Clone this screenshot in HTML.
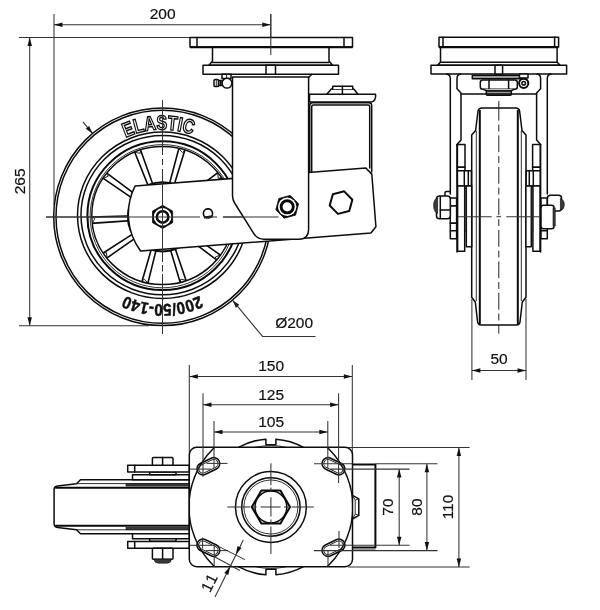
<!DOCTYPE html>
<html lang="en">
<head>
<meta charset="utf-8">
<title>Elastic castor 200/50-140 dimension drawing</title>
<style>
html,body{margin:0;padding:0;background:#fff}
svg{display:block;filter:grayscale(1)}
.o{stroke:#0d0d0d;stroke-width:1.5;fill:none;stroke-linejoin:round;stroke-linecap:round}
.o2{stroke:#1a1a1a;stroke-width:.9;fill:none;stroke-linejoin:round}
.o3{stroke:#0a0a0a;stroke-width:2;fill:none;stroke-linejoin:round}
.o4{stroke:#0a0a0a;stroke-width:1.6;fill:none;stroke-linejoin:round}
.w{fill:#fff}
.nk{fill:#0a0a0a;stroke:#0a0a0a;stroke-width:.8;stroke-linejoin:round}
.nw{fill:#fff;stroke:none}
.nr{fill:#fff;stroke:#0a0a0a;stroke-width:2.5}
.nr2{fill:#fff;stroke:#0a0a0a;stroke-width:2.9}
.g{fill:#9a9a9a}
.k{fill:#3a3a3a;stroke:#111;stroke-width:.6}
.d{stroke:#333;stroke-width:1.05;fill:none}
.c{stroke:#222;stroke-width:1;fill:none;stroke-dasharray:16.8 3.9 6.9 3.9}
.a{fill:#111;stroke:none}
.t{font-family:"Liberation Sans",Arial,sans-serif;fill:#111;stroke:#111;stroke-width:.2}
.el{font-family:"Liberation Sans",Arial,sans-serif;font-weight:700;fill:#fff;stroke:#111;stroke-width:1.45;text-rendering:geometricPrecision}
.sz{font-family:"Liberation Sans",Arial,sans-serif;font-weight:700;fill:#111;stroke:#111;stroke-width:.45;text-rendering:geometricPrecision}
</style>
</head>
<body>
<svg width="600" height="610" viewBox="0 0 600 610">
<rect x="0" y="0" width="600" height="610" fill="#fff"/>
<g id="side">
<line class="d" x1="19" y1="37.5" x2="190" y2="37.5"/>
<line class="d" x1="54" y1="14" x2="54" y2="205"/>
<line class="d" x1="270.8" y1="14" x2="270.8" y2="55"/>
<line class="d" x1="54" y1="24.7" x2="270.8" y2="24.7"/>
<polygon class="a" points="54,24.7 62.5,22.45 62.5,26.95"/>
<polygon class="a" points="270.8,24.7 262.3,26.95 262.3,22.45"/>
<text class="t" x="162.6" y="19.3" font-size="15.5" text-anchor="middle">200</text>
<line class="d" x1="29.7" y1="37.5" x2="29.7" y2="325.7"/>
<polygon class="a" points="29.7,37.5 31.95,46 27.45,46"/>
<polygon class="a" points="29.7,325.7 27.45,317.2 31.95,317.2"/>
<line class="d" x1="19" y1="325.7" x2="149" y2="325.7"/>
<text class="t" x="25" y="181.4" font-size="15.5" text-anchor="middle" transform="rotate(-90 25 181.4)">265</text>
<circle class="o w" cx="162.5" cy="216.8" r="108.8"/>
<circle class="o" cx="162.5" cy="216.8" r="106.5"/>
<ellipse class="o" cx="162.5" cy="215.3" rx="85" ry="83.2"/>
<ellipse class="o" cx="162.5" cy="215.1" rx="81.5" ry="79.7"/>
<ellipse class="o3" cx="162.5" cy="215.7" rx="75.1" ry="74.4"/>
<ellipse class="o2" cx="162.5" cy="216.2" rx="72.4" ry="71.6"/>
<clipPath id="sc"><ellipse cx="162.5" cy="215.6" rx="70.7" ry="69"/></clipPath>
<g clip-path="url(#sc)">
<g transform="translate(162.5 216.8) rotate(0)">
<path class="o4 w" d="M28 -2.3 L74 -3.2 L74 3.2 L28 2.3"/>
</g>
<g transform="translate(162.5 216.8) rotate(36)">
<path class="o4 w" d="M28 -2.3 L74 -3.2 L74 3.2 L28 2.3"/>
</g>
<g transform="translate(162.5 216.8) rotate(72.3)">
<path class="o4 w" d="M28 -2.3 L74 -3.2 L74 3.2 L28 2.3"/>
</g>
<g transform="translate(162.5 216.8) rotate(105)">
<path class="o4 w" d="M28 -2.3 L74 -3.2 L74 3.2 L28 2.3"/>
</g>
<g transform="translate(162.5 216.8) rotate(146)">
<path class="o4 w" d="M28 -2.3 L74 -3.2 L74 3.2 L28 2.3"/>
</g>
<g transform="translate(162.5 216.8) rotate(177.3)">
<path class="o4 w" d="M28 -2.3 L74 -3.2 L74 3.2 L28 2.3"/>
</g>
<g transform="translate(162.5 216.8) rotate(215.5)">
<path class="o4 w" d="M28 -2.3 L74 -3.2 L74 3.2 L28 2.3"/>
</g>
<g transform="translate(162.5 216.8) rotate(249.3)">
<path class="o4 w" d="M28 -2.3 L74 -3.2 L74 3.2 L28 2.3"/>
</g>
<g transform="translate(162.5 216.8) rotate(286)">
<path class="o4 w" d="M28 -2.3 L74 -3.2 L74 3.2 L28 2.3"/>
</g>
<g transform="translate(162.5 216.8) rotate(324)">
<path class="o4 w" d="M28 -2.3 L74 -3.2 L74 3.2 L28 2.3"/>
</g>
</g>
<g transform="translate(162.5 216.8) rotate(0)">
<path class="o2" d="M70.4 -3.1 L67.7 1.5 L70.4 3.1"/>
</g>
<g transform="translate(162.5 216.8) rotate(36)">
<path class="o2" d="M69.09 -3.1 L66.39 1.5 L69.09 3.1"/>
</g>
<g transform="translate(162.5 216.8) rotate(72.3)">
<path class="o2" d="M67.71 -3.1 L65.01 1.5 L67.71 3.1"/>
</g>
<g transform="translate(162.5 216.8) rotate(105)">
<path class="o2" d="M67.65 -3.1 L64.95 1.5 L67.65 3.1"/>
</g>
<g transform="translate(162.5 216.8) rotate(146)">
<path class="o2" d="M69.18 -3.1 L66.48 1.5 L69.18 3.1"/>
</g>
<g transform="translate(162.5 216.8) rotate(177.3)">
<path class="o2" d="M70.34 -3.1 L67.64 1.5 L70.34 3.1"/>
</g>
<g transform="translate(162.5 216.8) rotate(215.5)">
<path class="o2" d="M70.51 -3.1 L67.81 1.5 L70.51 3.1"/>
</g>
<g transform="translate(162.5 216.8) rotate(249.3)">
<path class="o2" d="M70.03 -3.1 L67.33 1.5 L70.03 3.1"/>
</g>
<g transform="translate(162.5 216.8) rotate(286)">
<path class="o2" d="M69.98 -3.1 L67.28 1.5 L69.98 3.1"/>
</g>
<g transform="translate(162.5 216.8) rotate(324)">
<path class="o2" d="M70.5 -3.1 L67.8 1.5 L70.5 3.1"/>
</g>
<ellipse class="o" cx="162.5" cy="215.6" rx="70.7" ry="69"/>
<circle class="o3 w" cx="162.5" cy="216.8" r="34.6"/>
<path id="tp" fill="none" d="M75.2 216.8 A87.3 87.3 0 1 1 249.8 216.8 A87.3 87.3 0 1 1 75.2 216.8"/>
<text class="el" font-size="20"><textPath href="#tp" startOffset="24.3%" text-anchor="middle" textLength="68.5" lengthAdjust="spacingAndGlyphs">ELASTIC</textPath></text>
<text class="sz" font-size="17"><textPath href="#tp" startOffset="75%" text-anchor="middle" textLength="77" lengthAdjust="spacingAndGlyphs">200/50-140</textPath></text>
<line class="d" x1="162.5" y1="100" x2="162.5" y2="155"/>
<line class="d" x1="162.5" y1="159" x2="162.5" y2="165"/>
<line class="d" x1="162.5" y1="169" x2="162.5" y2="262"/>
<line class="d" x1="162.5" y1="265" x2="162.5" y2="271.3"/>
<line class="d" x1="162.5" y1="274.4" x2="162.5" y2="334"/>
<line class="d" x1="46" y1="217" x2="200" y2="217"/>
<line class="d" x1="204.5" y1="217" x2="217" y2="217"/>
<line class="d" x1="223" y1="217" x2="278.5" y2="217"/>
<path class="o w" d="M309.7 175 L309.7 105.5 Q309.7 102.8 312.5 102.8 L369 102.8 Q371.7 102.8 371.7 105.5 L371.7 172"/>
<path class="o" d="M311.7 172 L311.7 106.5 Q311.7 105 313.2 105 L368.2 105 Q369.7 105 369.7 106.5 L369.7 168"/>
<path class="o w" d="M309.5 94.3 L375.6 94.3 Q376.3 100.5 371.3 102.1 L309.5 102.1 Z"/>
<path class="o w" d="M326.7 94.3 L331.3 89 L353.7 89 L358 94.3 Z"/>
<path class="o w" d="M332.7 89 L332.7 86.3 L352.7 86.3 L352.7 89"/>
<line class="o" x1="342.4" y1="86.3" x2="342.4" y2="94.3"/>
<g transform="translate(162.5 216.8) rotate(-4.45)">
<path class="o w" d="M-25 -32.8 L206.5 -32.8 L212 -26.3 L212 26.5 L206.5 32.4 L-24.5 32.4 A62 62 0 0 1 -25 -32.8 Z"/>
<circle class="o4 w" cx="45.6" cy="0.2" r="4.6"/>
<line class="o3" x1="41.2" y1="4" x2="50" y2="3.3"/>
<path class="o3 w" d="M190.62 -2.33 L186.62 8.66 L175.1 10.69 L167.58 1.73 L171.58 -9.26 L183.1 -11.29 Z"/>
</g>
<path class="nk" d="M162.6 228.5 L152.55 222.7 L152.55 211.1 L162.6 205.3 L172.65 211.1 L172.65 222.7 Z"/>
<circle class="nw" cx="162.6" cy="216.9" r="8.8"/>
<circle class="nr" cx="162.6" cy="216.9" r="5.75"/>
<line class="d" x1="162.5" y1="100" x2="162.5" y2="155"/>
<line class="d" x1="162.5" y1="159" x2="162.5" y2="165"/>
<line class="d" x1="162.5" y1="169" x2="162.5" y2="262"/>
<line class="d" x1="162.5" y1="265" x2="162.5" y2="271.3"/>
<line class="d" x1="162.5" y1="274.4" x2="162.5" y2="334"/>
<line class="d" x1="46" y1="217" x2="200" y2="217"/>
<line class="d" x1="204.5" y1="217" x2="217" y2="217"/>
<line class="d" x1="223" y1="217" x2="278.5" y2="217"/>
<rect class="o w" x="190" y="37.5" width="162.5" height="9.5"/>
<line class="o" x1="197" y1="37.5" x2="197" y2="47"/>
<line class="o" x1="344" y1="37.5" x2="344" y2="47"/>
<path class="o w" d="M212.5 47 L212.5 61 L209 65.3 L332.6 65.3 L329 61 L329 47 Z"/>
<line class="o3" x1="190" y1="47.2" x2="352.5" y2="47.2"/>
<line class="d" x1="270.8" y1="14" x2="270.8" y2="55"/>
<line class="o" x1="212.5" y1="62.5" x2="329" y2="62.5"/>
<rect class="o w" x="203" y="65.3" width="135.5" height="8.9"/>
<rect class="o w" x="266" y="65.3" width="9.5" height="8.9"/>
<rect class="o w" x="222" y="74.2" width="9" height="4.3"/>
<rect class="o w" x="214" y="79.6" width="4.6" height="7" rx="1.2"/>
<rect class="o w" x="218.6" y="80.6" width="5.4" height="5"/>
<line class="o2" x1="216.3" y1="79.6" x2="216.3" y2="86.6"/>
<line class="o3" x1="220.6" y1="80.6" x2="220.6" y2="85.6"/>
<line class="o2" x1="226.5" y1="74.2" x2="226.5" y2="78.5"/>
<circle class="o w" cx="227" cy="83.2" r="4.9"/>
<path class="o w" d="M232.5 77 L308.6 77 L308.6 229.5 Q308.6 239.2 299 239.2 L264 239.2 Q257.5 239.2 254 233.8 L234.6 203 Q232.5 199.6 232.5 195.5 Z"/>
<line class="o" x1="308.6" y1="77.6" x2="311.6" y2="74.4"/>
<line class="d" x1="223" y1="217" x2="278.5" y2="217"/>
<path class="nk" d="M298.6 203.75 L295.54 215.14 L284.15 218.2 L275.8 209.85 L278.86 198.46 L290.25 195.4 Z"/>
<circle class="nw" cx="287.2" cy="206.8" r="9.2"/>
<circle class="nr2" cx="287.2" cy="206.8" r="6.1"/>
<line class="d" x1="82.92" y1="121.96" x2="92.56" y2="133.45"/>
<polygon class="a" points="92.56,133.45 85.74,128.74 89.11,125.91"/>
<polygon class="a" points="232.44,300.15 239.26,304.86 235.89,307.69"/>
<path class="d" d="M232.44 300.15 L262.5 336.4 L315.5 336.4"/>
<text class="t" x="275.2" y="328.3" font-size="15.5" text-anchor="start">Ø200</text>
</g>
<g id="front">
<path class="o w" d="M482 108 L515.6 108 Q519 108 519.6 111 L522 130.5 L526 135 L526 297.3 L522.3 302 L520 322 Q519.6 325 516.6 325 L481 325 Q478 325 477.6 322 L475.3 302 L471.7 297.3 L471.7 135 L475.6 130.5 L478 111 Q478.6 108 482 108 Z"/>
<rect class="o w" x="439" y="37.3" width="119.6" height="9.7"/>
<line class="o" x1="443" y1="37.3" x2="443" y2="47"/>
<line class="o" x1="554.6" y1="37.3" x2="554.6" y2="47"/>
<path class="o w" d="M440.5 47 L440.5 62 L437.6 65.3 L560 65.3 L557.1 62 L557.1 47 Z"/>
<line class="o3" x1="439" y1="47.2" x2="558.6" y2="47.2"/>
<line class="o" x1="440.5" y1="62.3" x2="557.1" y2="62.3"/>
<rect class="o w" x="431" y="65.3" width="135.6" height="8.7"/>
<rect class="o w" x="495" y="65.3" width="7.6" height="8.7"/>
<rect class="o g" x="472.3" y="75.3" width="53" height="3.4"/>
<rect class="o w" x="480.3" y="80" width="37" height="9.3" rx="2.5"/>
<line class="o" x1="489" y1="80" x2="489" y2="89.3"/>
<line class="o" x1="508.6" y1="80" x2="508.6" y2="89.3"/>
<path class="o w" d="M483.5 89.3 L487 91 L510.6 91 L514.1 89.3"/>
<rect class="o g" x="486.3" y="91" width="25" height="4.3" rx="1"/>
<line class="o" x1="461" y1="94" x2="536.6" y2="94"/>
<rect class="o w" x="519.5" y="74" width="8.5" height="4"/>
<circle class="o3 w" cx="523.7" cy="83.3" r="4.6"/>
<circle class="o" cx="523.7" cy="83.3" r="1.8"/>
<path class="o" d="M446.5 74 Q450.3 74.5 450.3 78.5 L450.3 194"/>
<path class="o" d="M460.5 74 Q457 74.5 457 78.5 L457 88.7 L461 93 L461 140 L457 144.6"/>
<line class="o" x1="457" y1="144.6" x2="457" y2="252"/>
<rect class="o w" x="457.4" y="144.6" width="7.6" height="22.7"/>
<rect class="o w" x="457.4" y="167.3" width="7.6" height="3.4"/>
<rect class="o w" x="457.4" y="170.7" width="14" height="15.3"/>
<line class="o" x1="464.3" y1="170.7" x2="464.3" y2="186"/>
<line class="o" x1="468.3" y1="170.7" x2="468.3" y2="186"/>
<rect class="o w" x="457.6" y="186" width="7.1" height="65.3"/>
<rect class="o w" x="466.3" y="186" width="5.4" height="60.7"/>
<rect class="k" x="464.7" y="188" width="1.6" height="43"/>
<line class="o2" x1="476.3" y1="131" x2="476.3" y2="301"/>
<line class="o3" x1="479.8" y1="110" x2="479.8" y2="324"/>
<rect class="o w" x="450.3" y="198" width="6.3" height="8"/>
<rect class="o w" x="450.3" y="206" width="6.3" height="17.3"/>
<rect class="o w" x="450.3" y="223.3" width="6.3" height="7.4"/>
<rect class="o w" x="450.3" y="230.7" width="6.3" height="8"/>
<g transform="translate(997.6 0) scale(-1 1)">
<path class="o" d="M446.5 74 Q450.3 74.5 450.3 78.5 L450.3 194"/>
<path class="o" d="M460.5 74 Q457 74.5 457 78.5 L457 88.7 L461 93 L461 140 L457 144.6"/>
<line class="o" x1="457" y1="144.6" x2="457" y2="252"/>
<rect class="o w" x="457.4" y="144.6" width="7.6" height="22.7"/>
<rect class="o w" x="457.4" y="167.3" width="7.6" height="3.4"/>
<rect class="o w" x="457.4" y="170.7" width="14" height="15.3"/>
<line class="o" x1="464.3" y1="170.7" x2="464.3" y2="186"/>
<line class="o" x1="468.3" y1="170.7" x2="468.3" y2="186"/>
<rect class="o w" x="457.6" y="186" width="7.1" height="65.3"/>
<rect class="o w" x="466.3" y="186" width="5.4" height="60.7"/>
<rect class="k" x="464.7" y="188" width="1.6" height="43"/>
<line class="o2" x1="476.3" y1="131" x2="476.3" y2="301"/>
<line class="o3" x1="479.8" y1="110" x2="479.8" y2="324"/>
<rect class="o w" x="450.3" y="198" width="6.3" height="8"/>
<rect class="o w" x="450.3" y="206" width="6.3" height="17.3"/>
<rect class="o w" x="450.3" y="223.3" width="6.3" height="7.4"/>
<rect class="o w" x="450.3" y="230.7" width="6.3" height="8"/>
</g>
<path class="o" d="M445 196 L445 192.5 Q445 191.5 446.5 191.5 L450.3 191.5"/>
<rect class="o w" x="436.5" y="196" width="13.8" height="22.7" rx="3"/>
<line class="o" x1="440.3" y1="196.5" x2="440.3" y2="218.3"/>
<line class="o" x1="440.3" y1="210" x2="450.3" y2="210"/>
<path class="k" d="M437.6 197.8 Q433.6 199 433.6 205.5 Q433.6 212 437.6 213.6 Z"/>
<rect class="o w" x="547.4" y="195.3" width="14.1" height="15.7" rx="3"/>
<path class="k" d="M560.4 198.5 Q564.4 199.8 564.4 204.5 Q564.4 209.6 560.4 210.8 Z"/>
<rect class="o w" x="541" y="205.3" width="13" height="23.4" rx="2.5"/>
<rect class="k" x="553" y="208" width="2.2" height="18"/>
<line class="d" x1="498.8" y1="100.9" x2="498.8" y2="104.5"/>
<line class="c" x1="498.8" y1="103.9" x2="498.8" y2="333.6"/>
<line class="d" x1="458" y1="216.7" x2="491.7" y2="216.7"/>
<line class="d" x1="506.3" y1="216.7" x2="539.5" y2="216.7"/>
<line class="d" x1="496.5" y1="216.7" x2="501" y2="216.7"/>
<line class="d" x1="471.9" y1="299" x2="471.9" y2="380"/>
<line class="d" x1="526" y1="299" x2="526" y2="380"/>
<line class="d" x1="471.9" y1="370.4" x2="526" y2="370.4"/>
<polygon class="a" points="471.9,370.4 480.4,368.15 480.4,372.65"/>
<polygon class="a" points="526,370.4 517.5,372.65 517.5,368.15"/>
<text class="t" x="499" y="364.4" font-size="15.5" text-anchor="middle">50</text>
</g>
<g id="plan">
<path class="o w" d="M189.3 479.7 L80.5 479.7 L76.5 483.7 L57.5 486 Q54.1 486.4 54.1 489.6 L54.1 523.8 Q54.1 527 57.5 527.4 L76.5 529.7 L80.5 533.7 L189.3 533.7 Z"/>
<line class="o3" x1="55.2" y1="487.7" x2="189.3" y2="487.7"/>
<line class="o2" x1="77" y1="483.6" x2="189.3" y2="483.6"/>
<rect class="k" x="126" y="483.6" width="63.3" height="2.5"/>
<rect class="o w" x="132.5" y="474.7" width="56.8" height="5"/>
<rect class="o w" x="149.7" y="472.1" width="26.3" height="2.6"/>
<rect class="o w" x="127.7" y="465.2" width="61.6" height="6.7"/>
<line class="o" x1="134.7" y1="465.2" x2="134.7" y2="471.9"/>
<line class="o3" x1="55.2" y1="525.7" x2="189.3" y2="525.7"/>
<line class="o2" x1="77" y1="529.8" x2="189.3" y2="529.8"/>
<rect class="k" x="126" y="527.3" width="63.3" height="2.5"/>
<rect class="o w" x="132.5" y="533.7" width="56.8" height="5"/>
<rect class="o w" x="149.7" y="538.7" width="26.3" height="2.6"/>
<rect class="o w" x="127.7" y="541.5" width="61.6" height="6.7"/>
<line class="o" x1="134.7" y1="541.5" x2="134.7" y2="548.2"/>
<rect class="o w" x="152.4" y="457.4" width="20.6" height="7.8" rx="1"/>
<line class="o" x1="162.6" y1="457.4" x2="162.6" y2="465.2"/>
<rect class="o w" x="152.4" y="548.2" width="20.6" height="11" rx="1"/>
<line class="o" x1="162.6" y1="548.2" x2="162.6" y2="559.2"/>
<path class="k" d="M154 559.2 L171.5 559.2 Q171 563.2 167 563.2 L158.5 563.2 Q154.5 563.2 154 559.2 Z"/>
<path class="o w" d="M238.34 447.3 A68 68 0 0 1 265.9 439.18 L265.9 444.7 L275.9 444.7 L275.9 439.18 A68 68 0 0 1 303.46 447.3"/>
<path class="o2" d="M255.4 447.3 A71.5 71.5 0 0 1 286.4 447.3"/>
<path class="o w" d="M238.34 566.7 A68 68 0 0 0 265.9 574.82 L265.9 569.3 L275.9 569.3 L275.9 574.82 A68 68 0 0 0 303.46 566.7"/>
<path class="o2" d="M255.4 566.7 A71.5 71.5 0 0 0 286.4 566.7"/>
<path class="o3 w" d="M352.5 464.5 L375.4 464.5 L375.4 547.6 L352.5 547.6"/>
<line class="o2" x1="352.5" y1="550" x2="375.4" y2="550"/>
<path class="o w" d="M352.5 495.3 L358.8 498.8 L358.8 515.4 L352.5 519"/>
<path class="o2" d="M352.5 495.3 L355.2 500.2 L355.2 514 L352.5 519"/>
<line class="o2" x1="355.2" y1="500.2" x2="358.8" y2="498.8"/>
<line class="o2" x1="355.2" y1="514" x2="358.8" y2="515.4"/>
<clipPath id="pc"><rect x="189.3" y="447.3" width="163.2" height="119.4" rx="7.5"/></clipPath>
<rect class="o w" x="189.3" y="447.3" width="163.2" height="119.4" rx="7.5"/>
<circle class="o" clip-path="url(#pc)" cx="270.9" cy="507" r="82"/>
<circle class="o" cx="270.9" cy="507" r="35.4"/>
<circle class="o" cx="270.9" cy="507" r="29.2"/>
<circle class="o2" cx="270.9" cy="507" r="27"/>
<path class="o3" d="M290 507 L280.45 523.54 L261.35 523.54 L251.8 507 L261.35 490.46 L280.45 490.46 Z"/>
<circle class="o" cx="270.9" cy="507" r="15.9"/>
<rect class="o" x="-6" y="-6" width="24.12" height="12" rx="6" transform="translate(202.9 468.9) rotate(-25.93)"/>
<rect class="o2" x="-4.2" y="-4.2" width="20.52" height="8.4" rx="4.2" transform="translate(202.9 468.9) rotate(-25.93)"/>
<rect class="o" x="-6" y="-6" width="24.12" height="12" rx="6" transform="translate(202.9 545.1) rotate(25.93)"/>
<rect class="o2" x="-4.2" y="-4.2" width="20.52" height="8.4" rx="4.2" transform="translate(202.9 545.1) rotate(25.93)"/>
<rect class="o" x="-6" y="-6" width="24.12" height="12" rx="6" transform="translate(338.9 468.9) rotate(-154.07)"/>
<rect class="o2" x="-4.2" y="-4.2" width="20.52" height="8.4" rx="4.2" transform="translate(338.9 468.9) rotate(-154.07)"/>
<rect class="o" x="-6" y="-6" width="24.12" height="12" rx="6" transform="translate(338.9 545.1) rotate(154.07)"/>
<rect class="o2" x="-4.2" y="-4.2" width="20.52" height="8.4" rx="4.2" transform="translate(338.9 545.1) rotate(154.07)"/>
<line class="d" x1="270.9" y1="463.2" x2="270.9" y2="485.3"/>
<line class="d" x1="270.9" y1="487.6" x2="270.9" y2="491.6"/>
<line class="d" x1="270.9" y1="497.2" x2="270.9" y2="516.4"/>
<line class="d" x1="270.9" y1="519.6" x2="270.9" y2="524"/>
<line class="d" x1="270.9" y1="526.5" x2="270.9" y2="554"/>
<line class="d" x1="227.4" y1="507" x2="250.3" y2="507"/>
<line class="d" x1="252.6" y1="507" x2="256.6" y2="507"/>
<line class="d" x1="260.6" y1="507" x2="280.6" y2="507"/>
<line class="d" x1="284" y1="507" x2="288.4" y2="507"/>
<line class="d" x1="291.5" y1="507" x2="313.8" y2="507"/>
<line class="d" x1="206.7" y1="463.4" x2="227.5" y2="463.4"/>
<line class="d" x1="190" y1="469.1" x2="211" y2="469.1"/>
<line class="d" x1="314" y1="463.7" x2="352.5" y2="463.7"/>
<line class="d" x1="190" y1="545.3" x2="212" y2="545.3"/>
<line class="d" x1="206" y1="550.6" x2="228" y2="550.6"/>
<line class="d" x1="202.6" y1="537.5" x2="202.6" y2="548.5"/>
<line class="d" x1="214.2" y1="545" x2="214.2" y2="566.7"/>
<line class="d" x1="339" y1="531" x2="339" y2="548"/>
<line class="d" x1="328" y1="550" x2="328" y2="566.7"/>
<line class="d" x1="189.3" y1="376.4" x2="352.3" y2="376.4"/>
<polygon class="a" points="189.3,376.4 197.8,374.15 197.8,378.65"/>
<polygon class="a" points="352.3,376.4 343.8,378.65 343.8,374.15"/>
<text class="t" x="271.1" y="370.9" font-size="15.5" text-anchor="middle">150</text>
<line class="d" x1="203" y1="404.8" x2="338.6" y2="404.8"/>
<polygon class="a" points="203,404.8 211.5,402.55 211.5,407.05"/>
<polygon class="a" points="338.6,404.8 330.1,407.05 330.1,402.55"/>
<text class="t" x="271.1" y="399.5" font-size="15.5" text-anchor="middle">125</text>
<line class="d" x1="214" y1="432" x2="327.8" y2="432"/>
<polygon class="a" points="214,432 222.5,429.75 222.5,434.25"/>
<polygon class="a" points="327.8,432 319.3,434.25 319.3,429.75"/>
<text class="t" x="271.2" y="426.9" font-size="15.5" text-anchor="middle">105</text>
<line class="d" x1="189.3" y1="365" x2="189.3" y2="452"/>
<line class="d" x1="352.3" y1="365" x2="352.3" y2="452"/>
<line class="d" x1="203" y1="393.3" x2="203" y2="476.7"/>
<line class="d" x1="338.6" y1="393.3" x2="338.6" y2="483"/>
<line class="d" x1="214" y1="421" x2="214" y2="468"/>
<line class="d" x1="327.8" y1="421" x2="327.8" y2="468"/>
<line class="d" x1="348" y1="447.4" x2="469.6" y2="447.4"/>
<line class="d" x1="348" y1="567" x2="469.6" y2="567"/>
<line class="d" x1="458.9" y1="447.4" x2="458.9" y2="567"/>
<polygon class="a" points="458.9,447.4 461.15,455.9 456.65,455.9"/>
<polygon class="a" points="458.9,567 456.65,558.5 461.15,558.5"/>
<text class="t" x="453.3" y="507" font-size="15.5" text-anchor="middle" transform="rotate(-90 453.3 507)">110</text>
<line class="d" x1="375.4" y1="463.8" x2="437.5" y2="463.8"/>
<line class="d" x1="314" y1="550.6" x2="437.5" y2="550.6"/>
<line class="d" x1="426.9" y1="463.8" x2="426.9" y2="550.6"/>
<polygon class="a" points="426.9,463.8 429.15,472.3 424.65,472.3"/>
<polygon class="a" points="426.9,550.6 424.65,542.1 429.15,542.1"/>
<text class="t" x="421.9" y="507" font-size="15.5" text-anchor="middle" transform="rotate(-90 421.9 507)">80</text>
<line class="d" x1="330.5" y1="469.1" x2="409.6" y2="469.1"/>
<line class="d" x1="330" y1="545.3" x2="409.6" y2="545.3"/>
<line class="d" x1="399.2" y1="469.1" x2="399.2" y2="545.3"/>
<polygon class="a" points="399.2,469.1 401.45,477.6 396.95,477.6"/>
<polygon class="a" points="399.2,545.3 396.95,536.8 401.45,536.8"/>
<text class="t" x="393.3" y="507" font-size="15.5" text-anchor="middle" transform="rotate(-90 393.3 507)">70</text>
<line class="d" x1="219" y1="546.6" x2="245" y2="559.6"/>
<line class="d" x1="214.5" y1="556.8" x2="239.8" y2="570.5"/>
<line class="d" x1="243.3" y1="540" x2="215" y2="597"/>
<polygon class="a" points="235.8,554.6 237.56,545.99 241.6,547.99"/>
<polygon class="a" points="230.1,566.4 228.34,575.01 224.3,573.01"/>
<text class="t" x="214.4" y="584.6" font-size="15.5" text-anchor="middle" letter-spacing="1.6" transform="rotate(-63.6 214.4 584.6)">11</text>
</g>
</svg>
</body>
</html>
